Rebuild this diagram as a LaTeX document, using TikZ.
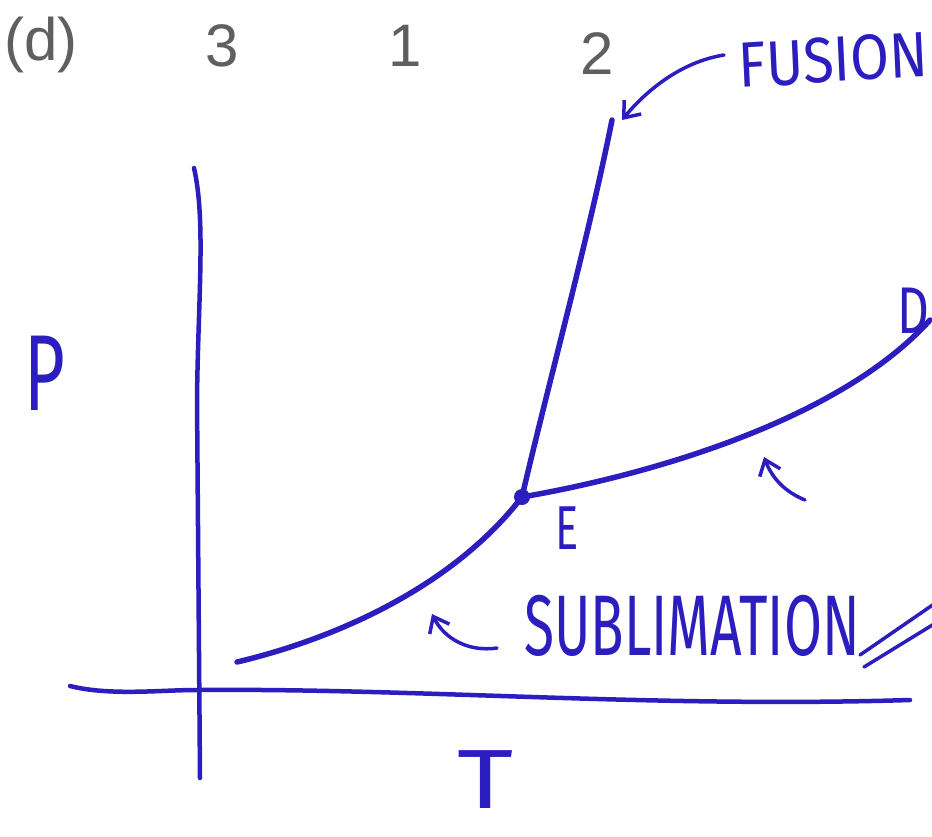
\documentclass[tikz,border=0pt]{standalone}
\usepackage{fontspec}
\usepackage{graphicx}
\setmainfont{Liberation Sans}
\newfontfamily\handfont{Fira Sans}
\usetikzlibrary{arrows.meta}
\definecolor{inkblue}{RGB}{44,30,190}
\definecolor{printgray}{RGB}{95,95,95}
\tikzset{
  ink/.style={draw=inkblue, line width=5.5pt, line cap=round, line join=round},
  thinink/.style={draw=inkblue, line width=3.5pt, line cap=round},
  barb/.style={-{Straight Barb[length=14pt,width=22pt,line width=3.5pt]}},
  hand/.style={text=inkblue, inner sep=0pt, transform shape},
  printed/.style={text=printgray, inner sep=0pt, font=\fontsize{60}{66}\selectfont}
}
\begin{document}
\begin{tikzpicture}[x=1pt,y=-1pt]
\useasboundingbox (0,0) rectangle (932,836);
\fill[white] (0,0) rectangle (932,836);

% printed labels
\node[printed] (lbld) at (41,45) {(d)};
\node[printed] (lbl3) at (222,46) {3};
\node[printed] (lbl1) at (405,46) {1};
\node[printed] (lbl2) at (597,54) {2};

% axes
\coordinate (vtop) at (194,168);
\coordinate (vmid) at (197,400);
\coordinate (vbot) at (200,778);
\coordinate (hleft) at (70,686);
\coordinate (origin) at (197,690);
\coordinate (hright) at (910,700);
\draw[ink, line width=4.5pt] (vtop) .. controls (206,220) and (198,300) .. (vmid) -- (vbot);
\draw[ink, line width=4.5pt] (hleft) .. controls (110,696) and (160,690) .. (origin)
   .. controls (420,688) and (650,708) .. (hright);

% phase curves
\coordinate (E) at (522,497);
\coordinate (subl0) at (237,662);
\coordinate (fustop) at (612,120);
\coordinate (vapend) at (930,320);
\draw[ink] (subl0) .. controls (330,640) and (450,590) .. (E);
\draw[ink] (E) .. controls (548,385) and (588,240) .. (fustop);
\draw[ink] (E) .. controls (650,475) and (840,420) .. (vapend);
\fill[inkblue] (E) circle (8pt);

% handwritten labels
\node[hand, font=\handfont\fontsize{64}{70}\selectfont, xscale=0.88, rotate=3] (fusion) at (833,60) {FUSION};
\node[hand, font=\handfont\fontsize{62}{70}\selectfont, xscale=0.7] (Elbl) at (567,528) {E};
\node[hand, font=\handfont\fontsize{66}{70}\selectfont, xscale=0.75] (Dlbl) at (913,311) {D};
\node[hand, font=\handfont\fontsize{108}{110}\selectfont, xscale=0.65] (Plbl) at (45,373) {P};
\node[hand, font=\handfont\fontsize{70}{72}\selectfont] (Tlbl) at (486,780) {\scalebox{1.55}[1.2]{T}};
\node[hand, font=\handfont\fontsize{86}{90}\selectfont, xscale=0.64] (sublbl) at (692,626) {SUBLIMATION};

% arrows
\coordinate (fusarr0) at (724,55);
\coordinate (fusarr1) at (622,120);
\draw[thinink, barb] (fusarr0) .. controls (680,62) and (645,92) .. (fusarr1);
\coordinate (vaparr0) at (805,500);
\coordinate (vaparr1) at (764,457);
\draw[thinink, barb] (vaparr0) .. controls (785,492) and (772,478) .. (vaparr1);
\coordinate (subarr0) at (497,648);
\coordinate (subarr1) at (432,614);
\draw[thinink, barb] (subarr0) .. controls (470,652) and (445,640) .. (subarr1);

% double slash
\coordinate (sl1a) at (860,655);
\coordinate (sl1b) at (934,604);
\coordinate (sl2a) at (864,667);
\coordinate (sl2b) at (934,624);
\draw[thinink] (sl1a) -- (sl1b);
\draw[thinink] (sl2a) -- (sl2b);
\end{tikzpicture}
\end{document}
